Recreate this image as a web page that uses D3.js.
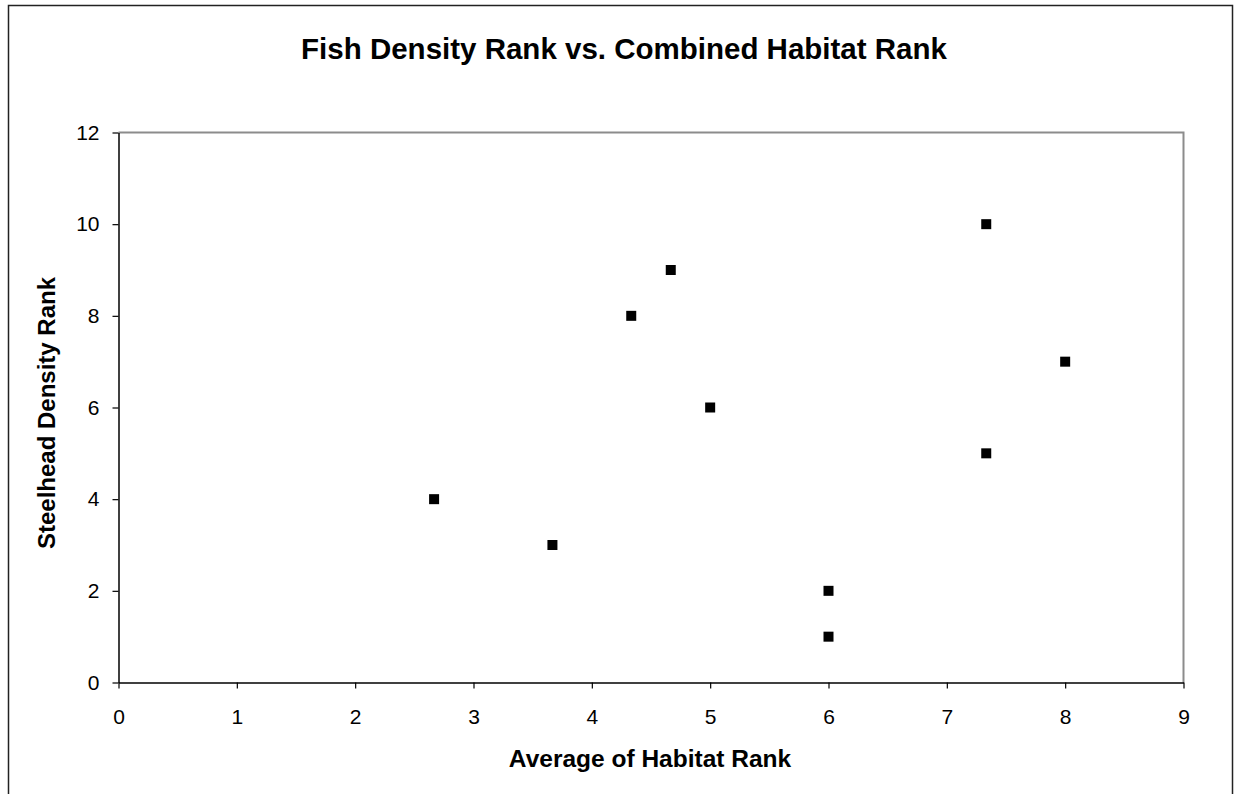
<!DOCTYPE html>
<html>
<head>
<meta charset="utf-8">
<script src="https://cdn.jsdelivr.net/npm/d3@7"></script>
<style>
  html, body { margin: 0; padding: 0; background: #fff; }
  svg { display: block; font-family: Arial, "Liberation Sans", sans-serif; }
</style>
</head>
<body>
<svg id="chart" width="1235" height="794"></svg>
<script>
const habitatRank = [2.667, 3.667, 4.333, 4.667, 5, 6, 6, 7.333, 7.333, 8];
const densityRank = [4, 3, 8, 9, 6, 2, 1, 10, 5, 7];
const xTicks = [0, 1, 2, 3, 4, 5, 6, 7, 8, 9];
const yTicks = [0, 2, 4, 6, 8, 10, 12];
const titleText = "Fish Density Rank vs. Combined Habitat Rank";
const xLabel = "Average of Habitat Rank";
const yLabel = "Steelhead Density Rank";

const svg = d3.select("#chart");
const plot = { left: 118.5, top: 132.5, right: 1183.5, bottom: 682.5 };

// outer frame
svg.append("rect").attr("x", 8.5).attr("y", 5.5).attr("width", 1224).attr("height", 800)
  .attr("fill", "none").attr("stroke", "#222").attr("stroke-width", 1.5);

const x = d3.scaleLinear().domain([0, 9]).range([plot.left, plot.right]);
const y = d3.scaleLinear().domain([0, 12]).range([plot.bottom, plot.top]);

// plot border (top/right grey)
svg.append("path")
  .attr("d", `M${plot.left},${plot.top}H${plot.right}V${plot.bottom}`)
  .attr("fill", "none").attr("stroke", "#8c8c8c").attr("stroke-width", 2);

const xAxis = svg.append("g").attr("transform", `translate(0,${plot.bottom})`)
  .call(d3.axisBottom(x).tickValues(xTicks).tickSize(6).tickPadding(21).tickSizeOuter(0).tickFormat(d3.format("d")));
const yAxis = svg.append("g").attr("transform", `translate(${plot.left},0)`)
  .call(d3.axisLeft(y).tickValues(yTicks).tickSize(6).tickPadding(13).tickSizeOuter(0).tickFormat(d3.format("d")));

[xAxis, yAxis].forEach(g => {
  g.select(".domain").attr("stroke", "#000").attr("stroke-width", 1.5);
  g.selectAll(".tick line").attr("stroke", "#000").attr("stroke-width", 1.2);
  g.selectAll(".tick text").attr("fill", "#000").style("font-size", "21px")
    .style("font-family", "Arial, 'Liberation Sans', sans-serif");
});

// markers
const s = 10;
svg.append("g").selectAll("rect").data(habitatRank.map((v, i) => [v, densityRank[i]]))
  .join("rect")
  .attr("x", d => x(d[0]) - s / 2).attr("y", d => y(d[1]) - s / 2)
  .attr("width", s).attr("height", s).attr("fill", "#000");

svg.append("text").attr("x", 624).attr("y", 59).attr("text-anchor", "middle")
  .style("font-size", "29.5px").style("font-weight", "bold").text(titleText);

svg.append("text").attr("x", 650).attr("y", 767).attr("text-anchor", "middle")
  .style("font-size", "24.5px").style("font-weight", "bold").text(xLabel);

svg.append("text").attr("transform", `translate(55,413) rotate(-90)`)
  .attr("text-anchor", "middle")
  .style("font-size", "24px").style("font-weight", "bold").text(yLabel);
</script>
</body>
</html>
